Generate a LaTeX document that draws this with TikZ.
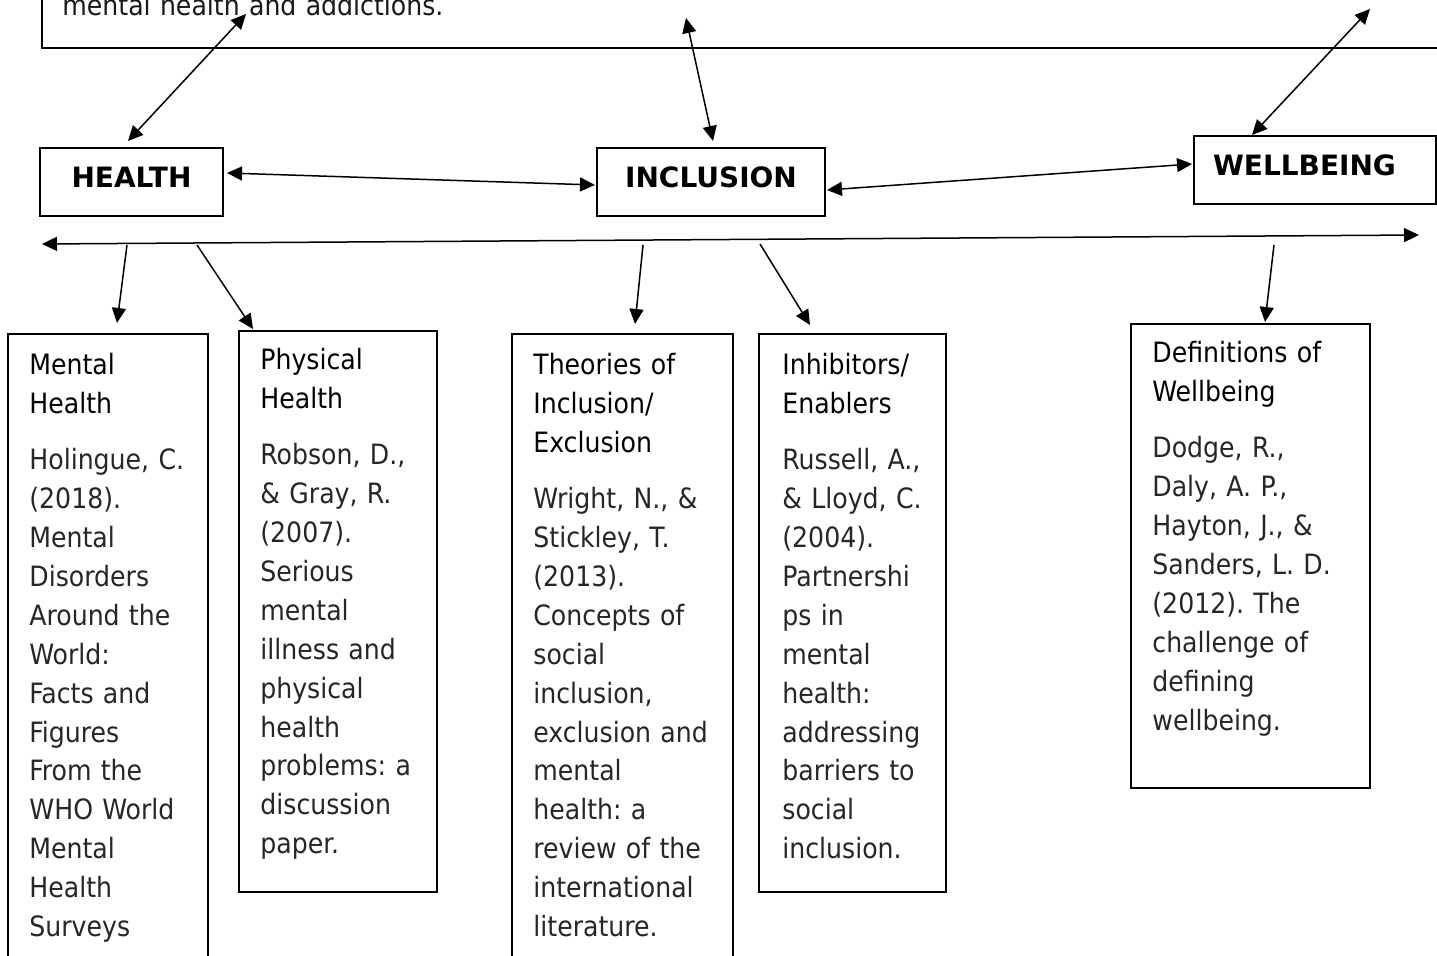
\documentclass[tikz,border=0pt]{standalone}
\usepackage{fontspec}
\setmainfont{DejaVu Sans Condensed}
\newfontfamily\labelfont{DejaVu Sans}
\frenchspacing
\usepackage{tikz}
\usetikzlibrary{arrows.meta}
\tikzstyle{box_normal} = [rectangle, draw, line width=1pt, inner sep=0pt]
\tikzstyle{box_label} = [box_normal, font=\fontsize{14pt}{17pt}\labelfont\bfseries, text height=10.2pt, text depth=5pt]
\tikzstyle{text_normal} = [anchor=base west, inner sep=0pt, align=left, text width=105pt, font=\fontsize{14pt}{19.45pt}\selectfont]
\tikzstyle{edge_normal} = [line width=0.75pt, {Triangle[length=7.5pt,width=7pt]}-{Triangle[length=7.5pt,width=7pt]}]
\tikzstyle{edge_down} = [line width=0.75pt, -{Triangle[length=7.5pt,width=7pt]}]

\begin{document}
\begin{tikzpicture}[x=0.5pt, y=-0.5pt]
			\useasboundingbox (0,0) rectangle (1437,956);
			\clip (0,0) rectangle (1437,956);
			% top box, cut off by the page
			\node (TOP) at (761,-6) [box_normal, minimum width=719pt, minimum height=54pt] {};
			\node (TOP_text) at (62,16) [text_normal, text width=300pt] {\color{black!90}mental health and addictions.};
			% main themes
			\node (HEALTH) at (131.5,182) [box_label, minimum width=91.5pt, minimum height=34pt] {HEALTH};
			\node (INCLUSION) at (711,182) [box_label, minimum width=114pt, minimum height=34pt] {INCLUSION};
			\node (WELLBEING) at (1315,170) [box_label, minimum height=34pt, text width=102pt, align=left, inner xsep=9.5pt] {WELLBEING};
			% literature boxes
			\node (MH) at (108,657) [box_normal, minimum width=100pt, minimum height=323pt] {};
			\node (PH) at (338,611.5) [box_normal, minimum width=99pt, minimum height=280.5pt] {};
			\node (TH) at (622.5,657) [box_normal, minimum width=110.5pt, minimum height=323pt] {};
			\node (IE) at (852.5,613) [box_normal, minimum width=93.5pt, minimum height=279pt] {};
			\node (DW) at (1250.5,556) [box_normal, minimum width=119.5pt, minimum height=232pt] {};
			\node (MH_text) at (29,375) [text_normal] {Mental\\Health\\[8.5pt]\color{black!85}Holingue, C.\\(2018).\\Mental\\Disorders\\Around the\\World:\\Facts and\\Figures\\From the\\WHO World\\Mental\\Health\\Surveys};
			\node (PH_text) at (260,370) [text_normal] {Physical\\Health\\[8.5pt]\color{black!85}Robson, D.,\\\& Gray, R.\\(2007).\\Serious\\mental\\illness and\\physical\\health\\problems: a\\discussion\\paper.};
			\node (TH_text) at (533,375) [text_normal] {Theories of\\Inclusion/\\Exclusion\\[8.5pt]\color{black!85}Wright, N., \&\\Stickley, T.\\(2013).\\Concepts of\\social\\inclusion,\\exclusion and\\mental\\health: a\\review of the\\international\\literature.};
			\node (IE_text) at (782,375) [text_normal] {Inhibitors/\\Enablers\\[8.5pt]\color{black!85}Russell, A.,\\\& Lloyd, C.\\(2004).\\Partnershi\\ps in\\mental\\health:\\addressing\\barriers to\\social\\inclusion.};
			\node (DW_text) at (1152,363) [text_normal] {Definitions of\\Wellbeing\\[8.5pt]\color{black!85}Dodge, R.,\\Daly, A. P.,\\Hayton, J., \&\\Sanders, L. D.\\(2012). The\\challenge of\\defining\\wellbeing.};
			% links to the top box
			\coordinate (top_a) at (246,14);
			\coordinate (top_b) at (686,18);
			\coordinate (top_c) at (1370,9);
			\draw[edge_normal] (top_a) -- ([xshift=-1.75pt,yshift=3pt]HEALTH.north);
			\draw[edge_normal] (top_b) -- ([xshift=1pt,yshift=3pt]INCLUSION.north);
			\draw[edge_normal] (top_c) -- ([xshift=-31.5pt]WELLBEING.north);
			\draw[edge_normal] ([xshift=1.5pt,yshift=4.5pt]HEALTH.east) -- ([xshift=-0.5pt,yshift=-1.5pt]INCLUSION.west);
			\draw[edge_normal] ([xshift=0.5pt,yshift=-4pt]INCLUSION.east) -- ([xshift=-0.5pt,yshift=3pt]WELLBEING.west);
			% long line and branches
			\coordinate (axis_l) at (42,244);
			\coordinate (axis_r) at (1419,235);
			\draw[edge_normal] (axis_l) -- (axis_r);
			\coordinate (mh_src) at (127,245);
			\coordinate (ph_src) at (197,245);
			\coordinate (th_src) at (643,245);
			\coordinate (ie_src) at (760,244);
			\coordinate (dw_src) at (1274,245);
			\draw[edge_down] (mh_src) -- ([xshift=4.5pt,yshift=5pt]MH.north);
			\draw[edge_down] (ph_src) -- ([xshift=7.5pt,yshift=0.5pt]PH.north west);
			\draw[edge_down] (th_src) -- ([xshift=6.25pt,yshift=4.5pt]TH.north);
			\draw[edge_down] (ie_src) -- ([xshift=26pt,yshift=4pt]IE.north west);
			\draw[edge_down] (dw_src) -- ([xshift=7.25pt,yshift=0.5pt]DW.north);
		\end{tikzpicture}
\end{document}
